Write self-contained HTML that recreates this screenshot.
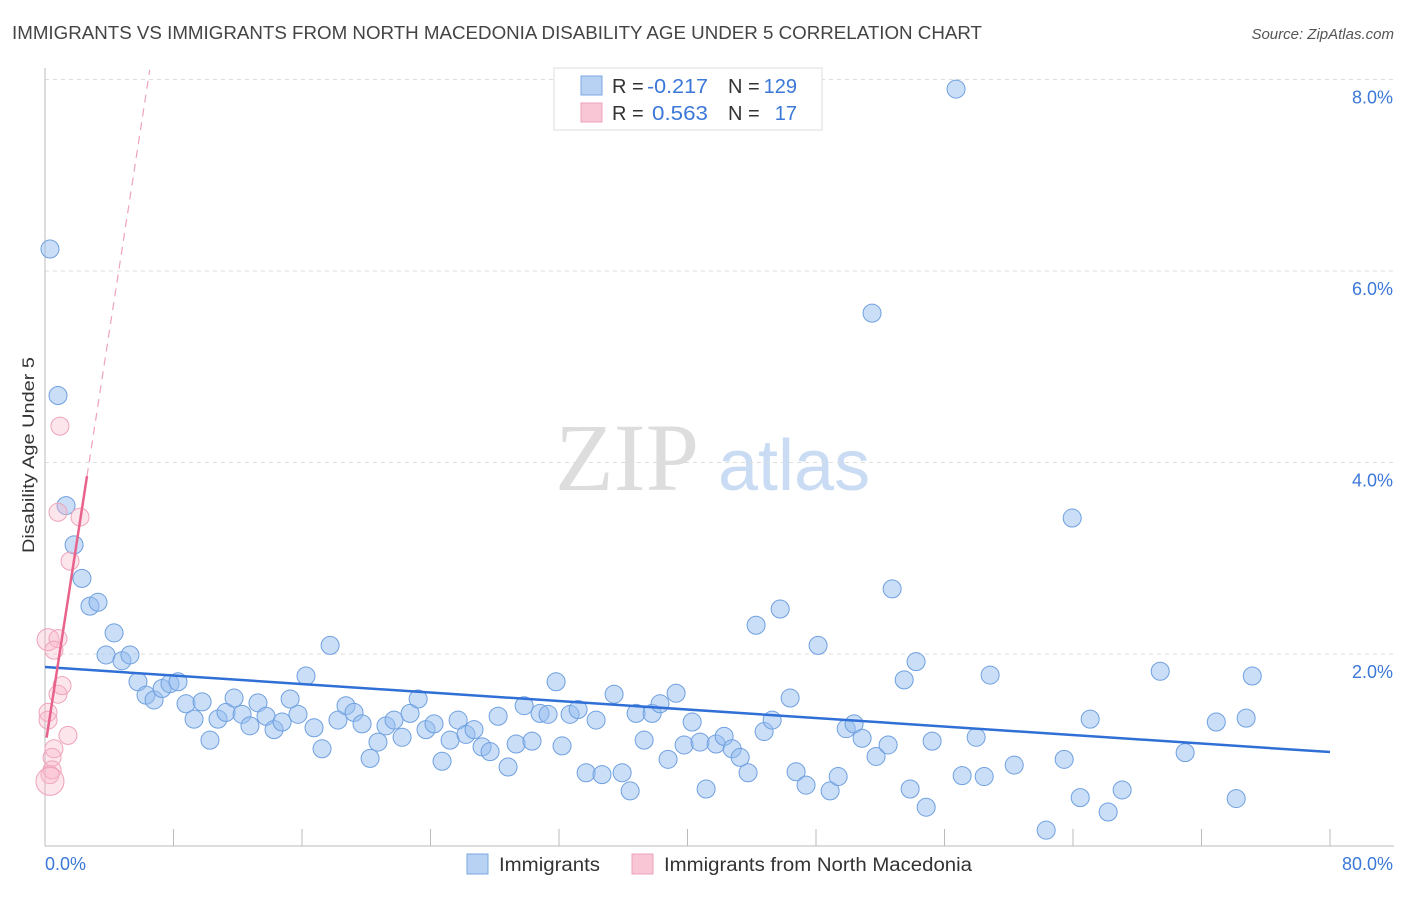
<!DOCTYPE html>
<html><head><meta charset="utf-8"><style>
body{margin:0;background:#fff;font-family:"Liberation Sans",sans-serif;}
</style></head><body>
<svg id="chart" width="1406" height="892" xmlns="http://www.w3.org/2000/svg" font-family="Liberation Sans, sans-serif">
<text x="12" y="39" font-size="18" fill="#444" textLength="970" lengthAdjust="spacingAndGlyphs">IMMIGRANTS VS IMMIGRANTS FROM NORTH MACEDONIA DISABILITY AGE UNDER 5 CORRELATION CHART</text>
<text x="1394" y="39" font-size="15" fill="#555" text-anchor="end" font-style="italic">Source: ZipAtlas.com</text>
<g>
<text x="555" y="490" font-size="96" fill="#ddd" font-family="Liberation Serif, serif">ZIP</text>
<text x="718" y="490" font-size="72" fill="#c9dcf3">atlas</text>
</g>
<g id="grid"></g>
<g id="axes"></g>
<g id="marks"></g>
<text transform="translate(34,455) rotate(-90)" font-size="17" fill="#333" text-anchor="middle" textLength="196" lengthAdjust="spacingAndGlyphs">Disability Age Under 5</text>
<g>
<rect x="554" y="68" width="268" height="62" fill="#fff" stroke="#ddd"/>
<rect x="581" y="76" width="21" height="19" fill="#b8d2f3" stroke="#7aa7e3"/>
<rect x="581" y="103" width="21" height="19" fill="#f8c6d4" stroke="#eda3b9"/>
<text x="612" y="93" font-size="20" fill="#333">R =</text>
<text x="647" y="93" font-size="20" fill="#3b78d8" textLength="61" lengthAdjust="spacingAndGlyphs">-0.217</text>
<text x="728" y="93" font-size="20" fill="#333">N =</text>
<text x="797" y="93" font-size="20" fill="#3b78d8" text-anchor="end">129</text>
<text x="612" y="120" font-size="20" fill="#333">R =</text>
<text x="652" y="120" font-size="20" fill="#3b78d8" textLength="56" lengthAdjust="spacingAndGlyphs">0.563</text>
<text x="728" y="120" font-size="20" fill="#333">N =</text>
<text x="797" y="120" font-size="20" fill="#3b78d8" text-anchor="end">17</text>
</g>
<g>
<rect x="467" y="854" width="21" height="20" fill="#b8d2f3" stroke="#7aa7e3"/>
<text x="499" y="871" font-size="19" fill="#333" textLength="101" lengthAdjust="spacingAndGlyphs">Immigrants</text>
<rect x="632" y="854" width="21" height="20" fill="#f8c6d4" stroke="#eda3b9"/>
<text x="664" y="871" font-size="19" fill="#333" textLength="308" lengthAdjust="spacingAndGlyphs">Immigrants from North Macedonia</text>
</g>
</svg>
<script>
const xTicks=[0,8,16,24,32,40,48,56,64,72,80];
const yGrid=[2,4,6,8];
const yTickLabels=["2.0%","4.0%","6.0%","8.0%"];
const xEndLabels=["0.0%","80.0%"];
const blueX=[0.31,0.81,1.31,1.81,2.30,2.80,3.30,4.30,3.80,4.79,5.29,5.79,6.29,6.79,7.29,7.78,8.28,8.78,9.28,9.78,10.27,10.77,11.27,11.77,12.27,12.76,13.26,13.76,14.26,14.76,15.26,15.75,16.25,16.75,17.25,17.75,18.24,18.74,19.24,19.74,20.24,20.73,21.23,21.73,22.23,22.73,23.23,23.72,24.22,24.72,25.22,25.72,26.21,26.71,27.21,27.71,28.21,28.83,29.33,29.83,30.32,30.82,31.32,31.82,32.19,32.69,33.19,33.69,34.31,34.68,35.43,35.93,36.43,36.80,37.30,37.80,38.29,38.79,39.29,39.79,40.29,40.78,41.16,41.78,42.28,42.78,43.28,43.77,44.27,44.77,45.27,45.77,46.39,46.76,47.38,48.13,48.88,49.38,49.88,50.37,50.87,51.49,51.74,52.49,52.74,53.49,53.86,54.23,54.86,55.23,56.72,57.10,57.97,58.47,58.84,60.34,62.33,63.45,63.95,64.45,65.07,66.19,67.06,69.43,70.98,72.92,74.16,74.78,75.16];
const blueY=[6.23,4.70,3.55,3.14,2.79,2.50,2.54,2.22,1.99,1.93,1.99,1.71,1.57,1.52,1.64,1.69,1.71,1.48,1.32,1.50,1.10,1.32,1.39,1.54,1.37,1.25,1.49,1.35,1.21,1.29,1.53,1.37,1.77,1.23,1.01,2.09,1.31,1.46,1.39,1.27,0.91,1.08,1.25,1.31,1.13,1.38,1.53,1.21,1.27,0.88,1.10,1.31,1.16,1.21,1.03,0.98,1.35,0.82,1.06,1.46,1.09,1.38,1.37,1.71,1.04,1.37,1.42,0.76,1.31,0.74,1.58,0.76,0.57,1.38,1.10,1.38,1.48,0.90,1.59,1.05,1.29,1.08,0.59,1.06,1.14,1.01,0.92,0.76,2.30,1.19,1.31,2.47,1.54,0.77,0.63,2.09,0.57,0.72,1.22,1.27,1.12,5.56,0.93,1.05,2.68,1.73,0.59,1.92,0.40,1.09,7.90,0.73,1.13,0.72,1.78,0.84,0.16,0.90,3.42,0.50,1.32,0.35,0.58,1.82,0.97,1.29,0.49,1.33,1.77];
const pinkX=[0.19,0.81,2.18,1.56,0.81,0.56,0.81,1.06,0.19,0.19,1.43,0.56,0.44,0.44,0.31,0.31,0.93];
const pinkY=[2.15,3.48,3.43,2.97,2.16,2.04,1.58,1.67,1.39,1.31,1.15,1.01,0.92,0.79,0.74,0.67,4.38];
const pinkR=[11,9,9,9,9,9,9,9,9,9,9,9,9,9,9,14,9];
const blueTrend=[1.864,0.976];
const pinkTrend=[1.018,1.086];
const pinkSolidEnd=2.615;

const X=v=>45+v*16.0625, Y=v=>845.5-v*95.75;
const NS="http://www.w3.org/2000/svg";
function mk(p,t,a){const e=document.createElementNS(NS,t);for(const k in a)e.setAttribute(k,a[k]);p.appendChild(e);return e;}
const grid=document.getElementById('grid'),axes=document.getElementById('axes'),marks=document.getElementById('marks');
yGrid.forEach((v,i)=>{
 const l=mk(grid,'line',{x1:45,x2:1394,y1:Y(v),y2:Y(v),stroke:'#ddd','stroke-dasharray':'4,4'});
 
 
 const t=mk(grid,'text',{x:1393,y:Y(v)+24,'font-size':18,fill:'#3b78d8','text-anchor':'end'});t.textContent=yTickLabels[i];
 
 
});
const ax=mk(axes,'line',{x1:45,x2:45,y1:68,y2:846,stroke:'#bbb'});


const bx=mk(axes,'line',{x1:45,x2:1394,y1:846,y2:846,stroke:'#bbb'});


xTicks.forEach(v=>{if(v===0)return;const t=mk(axes,'line',{x1:X(v),x2:X(v),y1:829,y2:846,stroke:'#bbb'});
 
 });
const l0=mk(axes,'text',{x:45,y:870,'font-size':18,fill:'#3b78d8'});l0.textContent=xEndLabels[0];


const l1=mk(axes,'text',{x:1393,y:870,'font-size':18,fill:'#3b78d8','text-anchor':'end'});l1.textContent=xEndLabels[1];


blueX.forEach((x,i)=>{const c=mk(marks,'circle',{cx:X(x),cy:Y(blueY[i]),r:9,fill:'rgba(150,190,240,0.5)',stroke:'#6fa0e0','stroke-width':1});
 
 });
pinkX.forEach((x,i)=>{const c=mk(marks,'circle',{cx:X(x),cy:Y(pinkY[i]),r:pinkR[i],fill:'rgba(248,180,200,0.35)',stroke:'#eea3ba','stroke-width':1});
 
 });
const bt=mk(marks,'line',{x1:X(0),y1:Y(blueTrend[0]),x2:X(80),y2:Y(blueTrend[1]),stroke:'#2f6fd6','stroke-width':2.5});


const pv=x=>pinkTrend[0]+pinkTrend[1]*x;
const ps=mk(marks,'line',{x1:X(0.1),y1:Y(pv(0.1)),x2:X(pinkSolidEnd),y2:Y(pv(pinkSolidEnd)),stroke:'#e8638c','stroke-width':2.5});


const xe=(8.1-pinkTrend[0])/pinkTrend[1];
const pd=mk(marks,'line',{x1:X(pinkSolidEnd),y1:Y(pv(pinkSolidEnd)),x2:X(xe),y2:Y(pv(xe)),stroke:'#eea3ba','stroke-width':1.2,'stroke-dasharray':'8,6'});


</script>
</body></html>
